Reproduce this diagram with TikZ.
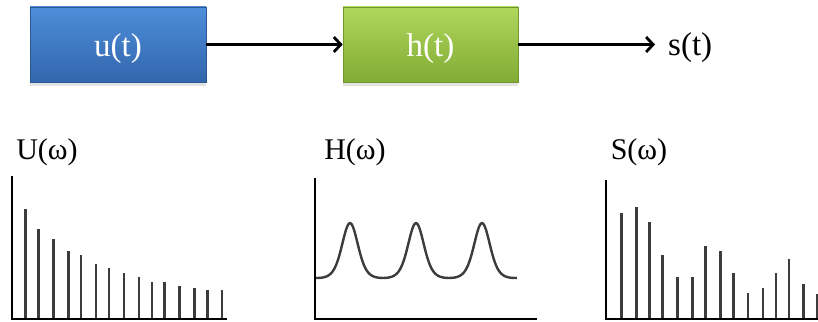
\documentclass[tikz,border=0pt]{standalone}
\usepackage{fontspec}
\setmainfont{Liberation Serif}
\usetikzlibrary{arrows.meta,shadows}
\definecolor{bluetop}{RGB}{78,142,218}
\definecolor{bluebot}{RGB}{50,102,172}
\definecolor{blueedge}{RGB}{44,88,150}
\definecolor{greentop}{RGB}{176,214,92}
\definecolor{greenbot}{RGB}{130,172,54}
\definecolor{greenedge}{RGB}{112,150,46}
\definecolor{bargray}{RGB}{60,60,60}
\tikzset{
  blockbox/.style={rectangle, minimum width=176pt, minimum height=75pt, inner sep=0pt,
    text=white, font=\fontsize{33}{36}\selectfont, text height=30pt, text depth=6.5pt,
    drop shadow={shadow xshift=0pt, shadow yshift=-4pt, opacity=0.22}},
  bluebox/.style={blockbox, top color=bluetop, bottom color=bluebot, draw=blueedge, line width=0.6pt},
  greenbox/.style={blockbox, top color=greentop, bottom color=greenbot, draw=greenedge, line width=0.6pt},
  flow/.style={line width=2.8pt, -{Straight Barb[length=7pt,width=15pt,line width=2.8pt]}},
  outtext/.style={font=\fontsize{33}{36}\selectfont, inner sep=0pt, anchor=west},
  speclabel/.style={font=\fontsize{30}{34}\selectfont, inner sep=0pt},
  yaxis/.style={line width=2.8pt, black},
  xaxis/.style={line width=2pt, black},
  specbar/.style={line width=2.5pt, bargray},
  curve/.style={line width=2.4pt, bargray, line join=round}
}
\begin{document}
\begin{tikzpicture}[x=1pt,y=-1pt]
\useasboundingbox (0,0) rectangle (818,321);
% block diagram
\node[bluebox, minimum width=176pt] (u) at (118,44.5) {u(t)};
\node[greenbox, minimum width=175pt] (h) at (430.5,44.5) {h(t)};
\node[outtext] (s) at (668,48) {s(t)};
\coordinate (send) at (655,44.5);
\draw[flow] (u.east) -- (h.west);
\draw[flow] (h.east) -- (send);
% labels
\node[speclabel] (lu) at (47,152) {U(ω)};
\node[speclabel] (lh) at (355,152) {H(ω)};
\node[speclabel] (ls) at (639,152) {S(ω)};
% spectrum U
\foreach \bx/\by in {25.7/209,38.3/229,53.3/239.3,68.3/250.7,81/255.3,96/264,109/268.3,124/272.7,139/277,152/281.7,164.7/281.7,179.3/285.7,194.3/288,207.3/290.3,222/290.3}
  \draw[specbar] (\bx,319) -- (\bx,\by);
\draw[xaxis] (11,319) -- (227,319);
\draw[yaxis] (12,176) -- (12,320);
% spectrum H
\draw[curve] plot[domain=315:517, samples=160, smooth] (\x,{279.5 - 56.5*exp(1.8*(cos((\x-350)*5.454545)-1))});
\draw[xaxis] (314,319) -- (537,319);
\draw[yaxis] (315,178) -- (315,320);
% spectrum S
\foreach \bx/\by in {621.7/213.3,636.7/206.7,649.7/222,662.7/255.3,677.5/277,692.3/276.7,705.7/246,720.3/250.7,733.3/272.7,748.2/292.7,762.8/288,776.2/272.7,789/259.3,803.5/283.7,817.3/294.3}
  \draw[specbar] (\bx,319) -- (\bx,\by);
\draw[xaxis] (605,319) -- (818,319);
\draw[yaxis] (606,180) -- (606,320);
\end{tikzpicture}
\end{document}
